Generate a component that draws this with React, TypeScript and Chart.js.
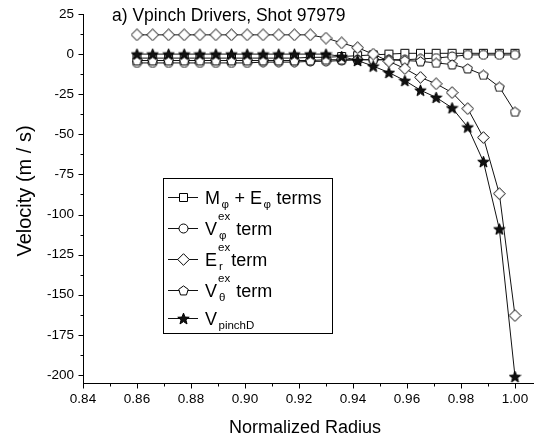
import React, { useEffect, useRef } from 'react';
import { Chart, registerables } from 'chart.js';

Chart.register(...registerables);

const FONT = "'Liberation Sans', Arial, Helvetica, sans-serif";

// ---------- data ----------
const radiusValues = [
  0.86, 0.8658, 0.8717, 0.8775, 0.8833, 0.8892, 0.895, 0.9008, 0.9067, 0.9125,
  0.9183, 0.9242, 0.93, 0.9358, 0.9417, 0.9475, 0.9533, 0.9592, 0.965, 0.9708,
  0.9767, 0.9825, 0.9883, 0.9942, 1.0,
];
const mPhiEPhiTerms = [
  -2.5, -2.5, -2.5, -2.5, -2.5, -2.5, -2.5, -2.5, -2.5, -2.5,
  -2.5, -2, -2, -1.5, -1, -0.5, 0, 0.5, 0.5, 0.5,
  0.5, 0.5, 0.5, 0.5, 0.5,
];
const vPhiExTerm = [
  -5.5, -5.5, -5.5, -5.5, -5.5, -5.5, -5.5, -5.5, -5, -5,
  -5, -4.5, -4.5, -4, -3.5, -3.5, -3.5, -3.5, -3, -2.5,
  -1.5, -0.5, -0.5, -0.5, -0.5,
];
const erExTerm = [
  12, 12, 12, 12, 12, 12, 12, 12, 12, 12,
  12, 12, 10, 7, 4, 0, -4.5, -9, -14.5, -18.5,
  -24, -34, -52, -87, -163,
];
const vThetaExTerm = [
  -4, -4, -4, -4, -4, -4, -4, -4, -4, -4,
  -4, -4, -3.5, -3.5, -3.5, -3.5, -3.5, -4, -4.5, -5.5,
  -6.5, -9, -13, -20.5, -36,
];
const vPinchD = [
  0, 0, 0, 0, 0, 0, 0, 0, 0, 0,
  0, 0, 0, -1.5, -4, -7.5, -11.5, -16.5, -22.5, -27,
  -33.5, -45.5, -67, -109, -201,
];

const xTickValues = [0.84, 0.86, 0.88, 0.9, 0.92, 0.94, 0.96, 0.98, 1.0];
const xMinorTicks = [0.85, 0.87, 0.89, 0.91, 0.93, 0.95, 0.97, 0.99];
const yTickValues = [25, 0, -25, -50, -75, -100, -125, -150, -175, -200];
const yMinorTicks = [12.5, -12.5, -37.5, -62.5, -87.5, -112.5, -137.5, -162.5, -187.5];

const titleText = 'a) Vpinch Drivers, Shot 97979';
const xTitle = 'Normalized Radius';
const yTitle = 'Velocity (m / s)';

type Seg = { k: 'n' | 'sub' | 'pair'; t?: string; sup?: string; sub?: string };
const legendEntries: { marker: string; segs: Seg[] }[] = [
  { marker: 'square', segs: [{ k: 'n', t: 'M' }, { k: 'sub', t: 'φ' }, { k: 'n', t: ' + E' }, { k: 'sub', t: 'φ' }, { k: 'n', t: ' terms' }] },
  { marker: 'circle', segs: [{ k: 'n', t: 'V' }, { k: 'pair', sup: 'ex', sub: 'φ' }, { k: 'n', t: ' term' }] },
  { marker: 'diamond', segs: [{ k: 'n', t: 'E' }, { k: 'pair', sup: 'ex', sub: 'r' }, { k: 'n', t: 'term' }] },
  { marker: 'pentagon', segs: [{ k: 'n', t: 'V' }, { k: 'pair', sup: 'ex', sub: 'θ' }, { k: 'n', t: ' term' }] },
  { marker: 'star', segs: [{ k: 'n', t: 'V' }, { k: 'sub', t: 'pinchD' }] },
];

// ---------- markers ----------
function makeMarker(kind: string): HTMLCanvasElement {
  const s = kind === 'diamond' ? 13 : kind === 'star' ? 13 : 11;
  const c = document.createElement('canvas');
  c.width = s;
  c.height = s;
  const ctx = c.getContext('2d')!;
  const m = s / 2;
  ctx.lineWidth = 1;
  ctx.strokeStyle = '#000';
  ctx.fillStyle = kind === 'star' ? '#111' : '#fff';
  ctx.beginPath();
  if (kind === 'square') {
    ctx.rect(1.5, 1.5, 8, 8);
  } else if (kind === 'circle') {
    ctx.arc(m, m, 4.5, 0, Math.PI * 2);
  } else if (kind === 'diamond') {
    ctx.moveTo(m, 0.7);
    ctx.lineTo(s - 0.7, m);
    ctx.lineTo(m, s - 0.7);
    ctx.lineTo(0.7, m);
    ctx.closePath();
  } else if (kind === 'pentagon') {
    for (let i = 0; i < 5; i++) {
      const a = -Math.PI / 2 + (i * 2 * Math.PI) / 5;
      const px = m + 5 * Math.cos(a);
      const py = m + 0.4 + 5 * Math.sin(a);
      if (i === 0) ctx.moveTo(px, py);
      else ctx.lineTo(px, py);
    }
    ctx.closePath();
  } else if (kind === 'star') {
    for (let i = 0; i < 10; i++) {
      const a = -Math.PI / 2 + (i * Math.PI) / 5;
      const r = i % 2 === 0 ? 6 : 2.5;
      const px = m + r * Math.cos(a);
      const py = m + 0.6 + r * Math.sin(a);
      if (i === 0) ctx.moveTo(px, py);
      else ctx.lineTo(px, py);
    }
    ctx.closePath();
  }
  ctx.fill();
  ctx.stroke();
  return c;
}

export default function App() {
  const ref = useRef<HTMLCanvasElement | null>(null);

  useEffect(() => {
    if (!ref.current) return;
    const markers: Record<string, HTMLCanvasElement> = {
      square: makeMarker('square'),
      circle: makeMarker('circle'),
      diamond: makeMarker('diamond'),
      pentagon: makeMarker('pentagon'),
      star: makeMarker('star'),
    };

    const decorPlugin = {
      id: 'decor',
      afterDraw(chart: any) {
        const { ctx, chartArea, scales } = chart;
        const xs = scales.x;
        const ys = scales.y;
        ctx.save();
        ctx.strokeStyle = '#000';
        ctx.lineWidth = 1;
        const bottom = Math.round(chartArea.bottom) + 0.5;
        const left = Math.round(chartArea.left) + 0.5;
        ctx.beginPath();
        xTickValues.forEach((v) => {
          const p = Math.round(xs.getPixelForValue(v)) + 0.5;
          ctx.moveTo(p, bottom);
          ctx.lineTo(p, bottom + 5);
        });
        xMinorTicks.forEach((v) => {
          const p = Math.round(xs.getPixelForValue(v)) + 0.5;
          ctx.moveTo(p, bottom);
          ctx.lineTo(p, bottom + 3);
        });
        yTickValues.forEach((v) => {
          const p = Math.round(ys.getPixelForValue(v)) + 0.5;
          ctx.moveTo(left, p);
          ctx.lineTo(left - 5, p);
        });
        yMinorTicks.forEach((v) => {
          const p = Math.round(ys.getPixelForValue(v)) + 0.5;
          ctx.moveTo(left, p);
          ctx.lineTo(left - 3, p);
        });
        ctx.stroke();

        // titles
        ctx.fillStyle = '#000';
        ctx.font = `17.5px ${FONT}`;
        ctx.textAlign = 'left';
        ctx.textBaseline = 'alphabetic';
        ctx.fillText(titleText, 112, 21);
        ctx.font = `18px ${FONT}`;
        ctx.textAlign = 'center';
        ctx.fillText(xTitle, 305, 433);
        ctx.font = `20px ${FONT}`;
        ctx.save();
        ctx.translate(31, 191);
        ctx.rotate(-Math.PI / 2);
        ctx.fillText(yTitle, 0, 0);
        ctx.restore();

        // legend
        const lx0 = 163, ly0 = 178, lx1 = 332, ly1 = 333;
        ctx.fillStyle = '#fff';
        ctx.fillRect(lx0, ly0, lx1 - lx0, ly1 - ly0);
        ctx.strokeStyle = '#000';
        ctx.strokeRect(lx0 + 0.5, ly0 + 0.5, lx1 - lx0, ly1 - ly0);
        const rowY = [197, 228, 259, 290, 318];
        const mainFont = `18px ${FONT}`;
        const smallFont = `11.5px ${FONT}`;
        legendEntries.forEach((e, i) => {
          const y = rowY[i];
          ctx.strokeStyle = '#111';
          ctx.beginPath();
          ctx.moveTo(168, y + 0.5);
          ctx.lineTo(198, y + 0.5);
          ctx.stroke();
          const mk = markers[e.marker];
          ctx.drawImage(mk, Math.round(183 - mk.width / 2), Math.round(y + 0.5 - mk.height / 2));
          let x = 205;
          const base = y + 6.5;
          ctx.fillStyle = '#000';
          ctx.textAlign = 'left';
          e.segs.forEach((s) => {
            if (s.k === 'n') {
              ctx.font = mainFont;
              ctx.fillText(s.t!, x, base);
              x += ctx.measureText(s.t!).width;
            } else if (s.k === 'sub') {
              ctx.font = smallFont;
              ctx.fillText(s.t!, x + 1.5, base + 4);
              x += ctx.measureText(s.t!).width + 2;
            } else {
              ctx.font = smallFont;
              ctx.fillText(s.sup!, x + 1, base - 15);
              ctx.fillText(s.sub!, x + 2, base + 4);
              x += Math.max(ctx.measureText(s.sup!).width, ctx.measureText(s.sub!).width) + 2;
            }
          });
        });
        ctx.restore();
      },
    };

    const mk = (label: string, values: number[], marker: string, order: number) => ({
      label,
      data: radiusValues.map((x, i) => ({ x, y: values[i] })),
      borderColor: '#111',
      borderWidth: 1,
      pointStyle: markers[marker],
      pointRadius: 5,
      pointHoverRadius: 5,
      fill: false,
      tension: 0,
      order,
    });

    const chart: any = new Chart(ref.current, {
      type: 'line',
      data: {
        datasets: [
          mk('Mφ + Eφ terms', mPhiEPhiTerms, 'square', 4),
          mk('Vφ ex term', vPhiExTerm, 'circle', 3),
          mk('Er ex term', erExTerm, 'diamond', 1),
          mk('Vθ ex term', vThetaExTerm, 'pentagon', 2),
          mk('VpinchD', vPinchD, 'star', 0),
        ] as any,
      },
      options: {
        animation: false,
        responsive: false,
        devicePixelRatio: 1,
        events: [],
        layout: { padding: { top: 14, right: 1, left: 0, bottom: 0 } },
        plugins: { legend: { display: false }, title: { display: false }, tooltip: { enabled: false } },
        scales: {
          x: {
            type: 'linear',
            min: 0.84,
            max: 1.0085,
            afterBuildTicks: (s: any) => {
              s.ticks = xTickValues.map((v) => ({ value: v }));
            },
            afterFit: (s: any) => {
              s.height = 56;
            },
            ticks: {
              callback: (v: any) => Number(v).toFixed(2),
              font: { family: FONT, size: 13.5 },
              color: '#000',
              padding: 3,
              maxRotation: 0,
              autoSkip: false,
            },
            grid: { display: false, drawTicks: true, tickLength: 5 },
            border: { display: true, color: '#000', width: 1 },
          },
          y: {
            type: 'linear',
            min: -205,
            max: 25,
            afterBuildTicks: (s: any) => {
              s.ticks = yTickValues.map((v) => ({ value: v }));
            },
            afterFit: (s: any) => {
              s.width = 83;
            },
            ticks: {
              callback: (v: any) => String(v),
              font: { family: FONT, size: 13.5 },
              color: '#000',
              padding: 4,
              autoSkip: false,
            },
            grid: { display: false, drawTicks: true, tickLength: 5 },
            border: { display: true, color: '#000', width: 1 },
          },
        },
      },
      plugins: [decorPlugin],
    } as any);

    // fit the plot area so the axis reaches the right edge and 1.00 sits at x≈515
    const targetRight = 538;
    const targetOne = 515;
    let area = chart.chartArea;
    const shortfall = targetRight - area.right;
    if (Math.abs(shortfall) > 0.5) {
      chart.options.layout.padding.right = 1 - shortfall;
      chart.update('none');
      area = chart.chartArea;
    }
    const span = (0.16 * (area.right - area.left)) / (targetOne - area.left);
    chart.options.scales.x.max = 0.84 + span;
    chart.update('none');

    return () => chart.destroy();
  }, []);

  return (
    <div style={{ position: 'fixed', left: 0, top: 0, width: 539, height: 439, background: '#fff' }}>
      <canvas ref={ref} width={539} height={439} style={{ width: 539, height: 439, display: 'block' }} />
    </div>
  );
}
